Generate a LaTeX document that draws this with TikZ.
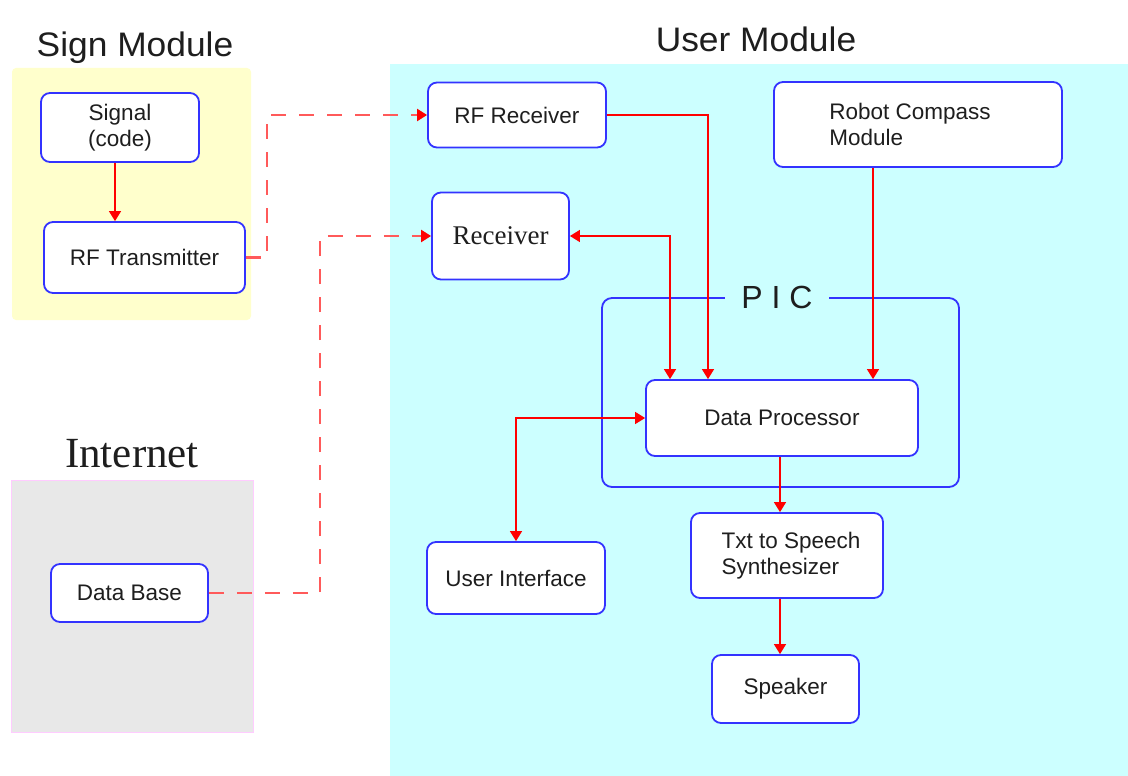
\documentclass[tikz,border=0pt]{standalone}
\usepackage{fontspec}
\setmainfont{Liberation Sans}
\newfontfamily\serifface{Liberation Serif}
\newfontfamily\titleface[FakeStretch=1.04]{Liberation Sans}
\usetikzlibrary{arrows.meta}

\definecolor{signbg}{RGB}{255,255,204}
\definecolor{userbg}{RGB}{204,255,255}
\definecolor{netbg}{RGB}{232,232,232}
\definecolor{netedge}{RGB}{255,204,255}
\definecolor{boxblue}{RGB}{51,51,255}
\definecolor{linkred}{RGB}{255,90,90}
\definecolor{txt}{RGB}{30,30,30}

\tikzset{
  box/.style={draw=boxblue, fill=white, line width=1.8pt, rounded corners=9pt,
    inner sep=0pt, text=txt, align=center,
    font=\fontsize{22.5}{26}\selectfont},
  title/.style={anchor=base, text=txt, font=\titleface\fontsize{34}{38}\selectfont},
  flow/.style={draw=red, line width=1.5pt, -{Triangle[length=10pt,width=12pt]}},
  twoway/.style={draw=red, line width=1.5pt,
    {Triangle[length=10pt,width=12pt]}-{Triangle[length=10pt,width=12pt]}},
  link/.style={draw=linkred, line width=2.2pt, dash pattern=on 15pt off 13pt,
    -{Triangle[length=10pt,width=12pt,color=red]}},
}

\begin{document}
\begin{tikzpicture}[x=1pt,y=-1pt]
\useasboundingbox (0,0) rectangle (1128,776);
\fill[white] (0,0) rectangle (1128,776);

% module backgrounds
\fill[signbg, rounded corners=4pt] (12,68) rectangle (251,320);
\fill[userbg] (390,64) rectangle (1128,776);
\filldraw[fill=netbg, draw=netedge, line width=1pt] (11,480) rectangle (253,732);

% module titles
\node[title] (tsign) at (135,57) {Sign Module};
\node[title] (tuser) at (756,52) {User Module};
\node[anchor=base, text=txt, font=\serifface\fontsize{43}{48}\selectfont] (tnet) at (132,467) {Internet};

% PIC frame with its label
\draw[boxblue, line width=1.8pt, rounded corners=10pt] (602,298) rectangle (959,487);
\node[fill=userbg, inner xsep=16pt, inner ysep=2pt, text=txt,
      font=\fontsize{32}{36}\selectfont] (pic) at (777,297) {P I C};

% blocks
\node[box, minimum width=158pt, minimum height=69pt] (sig) at (120,127.5) {Signal\\(code)};
\node[box, minimum width=201pt, minimum height=71pt] (rft) at (144.5,257.5) {RF Transmitter};
\node[box, minimum width=157pt, minimum height=58pt] (db) at (129.5,593) {Data Base};
\node[box, minimum width=178pt, minimum height=65pt] (rfr) at (517,115) {RF Receiver};
\node[box, minimum width=137pt, minimum height=87pt,
      font=\serifface\fontsize{27}{30}\selectfont] (rcv) at (500.5,236) {Receiver};
\node[box, minimum width=288pt, minimum height=85pt, align=left] (rcm) at (918,124.5)
  {\hspace*{-16pt}Robot Compass\\\hspace*{-16pt}Module};
\node[box, minimum width=272pt, minimum height=76pt] (dp) at (782,418) {Data Processor};
\node[box, minimum width=178pt, minimum height=72pt] (ui) at (516,578) {User Interface};
\node[box, minimum width=192pt, minimum height=85pt, align=left] (tts) at (787,555.5)
  {\hspace*{8pt}Txt to Speech\\\hspace*{8pt}Synthesizer};
\node[box, minimum width=147pt, minimum height=68pt] (spk) at (785.5,689) {Speaker};

% routing columns
\coordinate (k1) at (267,0);
\coordinate (k2) at (320,0);
\coordinate (c1) at (670,0);
\coordinate (c2) at (708,0);
\coordinate (c3) at (873,0);
\coordinate (c4) at (780,0);

% wireless / network links
\draw[link] (rft.east) -- (rft.east -| k1) -- (k1 |- rfr.west) -- (rfr.west);
\draw[link] (db.east) -- (db.east -| k2) -- (k2 |- rcv.west) -- (rcv.west);

% internal signal flow
\draw[flow] ([xshift=-5pt]sig.south) -- ([xshift=-5pt]sig.south |- rft.north);
\draw[twoway] (rcv.east) -- (rcv.east -| c1) -- (c1 |- dp.north);
\draw[flow] (rfr.east) -- (rfr.east -| c2) -- (c2 |- dp.north);
\draw[flow] (rcm.south -| c3) -- (c3 |- dp.north);
\draw[twoway] (dp.west) -| (ui.north);
\draw[flow] (dp.south -| c4) -- (tts.north -| c4);
\draw[flow] (tts.south -| c4) -- (spk.north -| c4);
\end{tikzpicture}
\end{document}
